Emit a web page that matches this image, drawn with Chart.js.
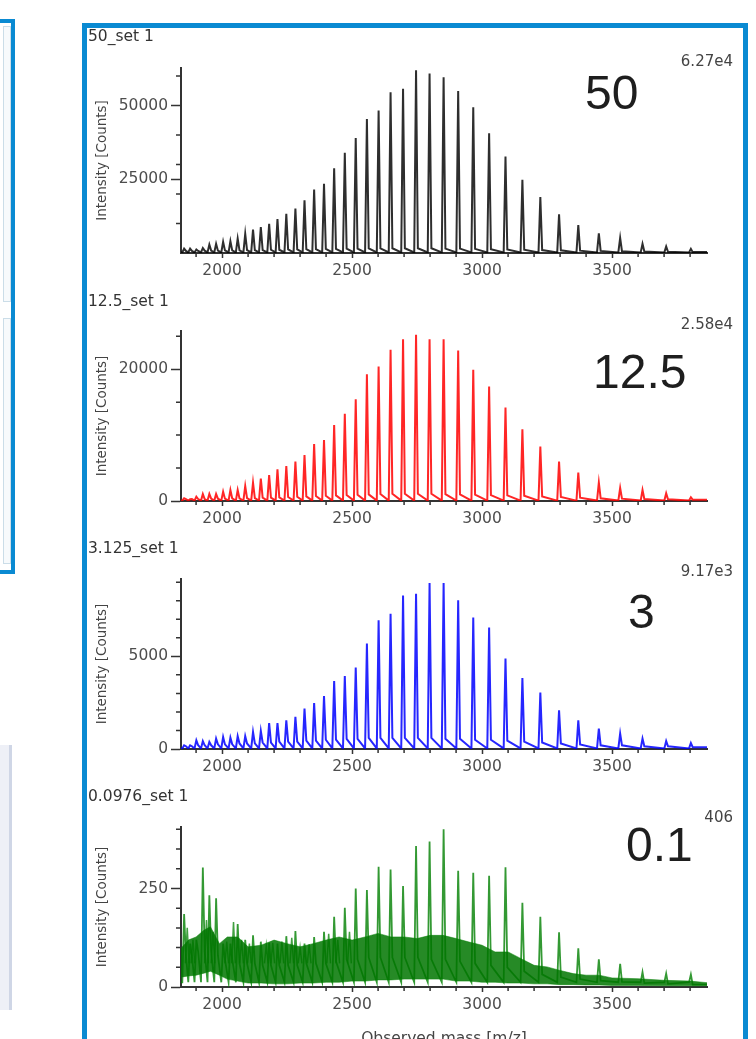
<!DOCTYPE html>
<html>
<head>
<meta charset="utf-8">
<script src="https://cdn.jsdelivr.net/npm/chart.js@4.4.1/dist/chart.umd.min.js"></script>
<style>
  body { margin: 0; width: 756px; height: 1039px; overflow: hidden; background: #fff; position: relative; font-family: 'DejaVu Sans', sans-serif; }
  .abs { position: absolute; box-sizing: border-box; }
  canvas { position: absolute; left: 88px; }
  .set { left: 88px; font-size: 15.5px; color: #333; line-height: 1; transform: translateY(-50%); white-space: nowrap; }
  .max { right: 23px; font-size: 15px; color: #444; line-height: 1; transform: translateY(-50%); }
  .big { font-family: 'Liberation Sans', Arial, sans-serif; font-size: 48px; color: #1e1e1e; line-height: 1; transform: translateY(-50%); }
</style>
</head>
<body>
<!-- bits of the neighbouring panels -->
<div class="abs" style="left:-10px;top:19px;width:25px;height:555px;border:4px solid #0a8ad2"></div>
<div class="abs" style="left:3px;top:26px;width:8px;height:276px;border:1px solid #cbdde8;background:#f7fafc"></div>
<div class="abs" style="left:3px;top:318px;width:8px;height:246px;border:1px solid #cbdde8;background:#f7fafc"></div>
<div class="abs" style="left:0;top:745px;width:12px;height:265px;background:#eef0f7;border-right:3px solid #cfd6e6"></div>

<!-- main frame -->
<div class="abs" style="left:82px;top:23px;width:666px;height:1100px;border:5px solid #0a8ad2"></div>

<canvas id="c1" width="655" height="260" style="top:30px"></canvas>
<canvas id="c2" width="655" height="248" style="top:292px"></canvas>
<canvas id="c3" width="655" height="250" style="top:540px"></canvas>
<canvas id="c4" width="655" height="249" style="top:790px"></canvas>

<div class="abs set" style="top:37px">50_set 1</div>
<div class="abs set" style="top:302px">12.5_set 1</div>
<div class="abs set" style="top:549px">3.125_set 1</div>
<div class="abs set" style="top:797px">0.0976_set 1</div>

<div class="abs max" style="top:61px">6.27e4</div>
<div class="abs max" style="top:324px">2.58e4</div>
<div class="abs max" style="top:571px">9.17e3</div>
<div class="abs max" style="top:817px">406</div>

<div class="abs big" style="left:585px;top:93px">50</div>
<div class="abs big" style="left:593px;top:372px">12.5</div>
<div class="abs big" style="left:628px;top:612px">3</div>
<div class="abs big" style="left:626px;top:845px">0.1</div>

<div class="abs" style="left:444px;top:1029px;transform:translateX(-50%);font-size:15.5px;color:#444;white-space:nowrap">Observed mass [m/z]</div>

<script>
// charge-state peaks (m/z), same envelope in every run
const peakMz = [1854, 1877, 1901, 1926, 1951, 1977, 2004, 2032, 2060, 2089, 2119, 2149, 2181, 2213,
  2247, 2282, 2317, 2354, 2392, 2431, 2472, 2514, 2557, 2602, 2648, 2696, 2746, 2798, 2852, 2908,
  2966, 3027, 3090, 3155, 3224, 3296, 3370, 3449, 3531, 3617, 3708, 3803];

// 50
const blackHeights = [1500, 1500, 1200, 1700, 2860, 3100, 3800, 4000, 4900, 6500, 7900, 8800, 9900, 11500,
  13300, 15100, 17900, 21500, 23500, 28700, 34000, 39000, 45400, 48300, 54500, 55700, 61900, 60800, 59600, 54900,
  49400, 40600, 32700, 24800, 19000, 13100, 9500, 6700, 5100, 3100, 2200, 1400];
const blackFloor = [700, 700, 700, 800, 800, 800, 900, 900, 900, 1000, 1000, 1000, 1100, 1100,
  1200, 1200, 1300, 1300, 1400, 1400, 1500, 1500, 1600, 1600, 1600, 1600, 1600, 1600, 1500, 1500,
  1400, 1300, 1200, 1100, 1000, 900, 800, 700, 600, 500, 400, 300];

// 12.5
const redHeights = [410, 260, 650, 1060, 1060, 1060, 1420, 1670, 1670, 2280, 2790, 3400, 3950, 4810,
  5320, 5980, 6990, 8660, 9270, 11540, 13220, 15440, 19240, 20400, 22940, 24560, 25220, 24560, 24560, 22830,
  19900, 17370, 14180, 10890, 8250, 5980, 4300, 2790, 1970, 1670, 1160, 560];
const redFloor = [300, 300, 300, 300, 350, 350, 350, 400, 400, 450, 450, 500, 500, 550,
  600, 650, 700, 750, 800, 850, 900, 950, 1000, 1050, 1100, 1100, 1100, 1100, 1050, 1000,
  950, 900, 850, 800, 700, 600, 500, 400, 350, 300, 250, 200];

// 3.125
const blueHeights = [200, 200, 470, 430, 380, 560, 650, 610, 690, 690, 920, 970, 1400, 1400,
  1550, 1730, 2180, 2480, 2860, 3670, 3940, 4390, 5690, 6950, 7300, 8280, 8380, 8960, 8960, 8020,
  7090, 6550, 4880, 3830, 3040, 2090, 1550, 1100, 830, 560, 430, 320];
const blueFloor = [150, 150, 200, 200, 200, 250, 250, 250, 300, 300, 300, 350, 350, 400,
  400, 400, 450, 450, 500, 500, 550, 550, 600, 600, 600, 600, 600, 600, 550, 550,
  500, 500, 450, 400, 350, 300, 250, 200, 200, 150, 150, 100];

// 0.0976
const greenHeights = [185, 110, 120, 303, 233, 225, 110, 110, 160, 120, 131, 115, 112, 110,
  129, 142, 110, 127, 140, 178, 201, 250, 246, 305, 298, 256, 358, 369, 400, 295,
  290, 282, 304, 214, 178, 139, 98, 70, 59, 38, 34, 32];
const greenFloor = [80, 80, 90, 90, 90, 80, 70, 70, 60, 60, 60, 55, 55, 55,
  55, 55, 60, 60, 60, 65, 70, 70, 75, 75, 75, 75, 75, 70, 70, 65,
  60, 55, 50, 40, 32, 25, 20, 16, 13, 10, 8, 6];
const greenExtraMz = [1866, 1888, 1940, 1965, 2018, 2044, 2075, 2105, 2170, 2195, 2230, 2268, 2300, 2335, 2410, 2445, 2490];
const greenExtraY = [150, 120, 170, 140, 115, 165, 120, 110, 105, 112, 115, 125, 100, 108, 135, 120, 140];
// noise band of the low-concentration run
const noiseMz = [1842, 1870, 1900, 1930, 1955, 1990, 2020, 2060, 2100, 2150, 2200, 2250, 2300, 2350,
  2400, 2450, 2500, 2550, 2600, 2650, 2700, 2750, 2800, 2850, 2900, 2950, 3000, 3050,
  3100, 3150, 3200, 3250, 3300, 3350, 3400, 3450, 3500, 3600, 3700, 3800, 3865];
const noiseHi = [98, 119, 127, 144, 153, 110, 127, 127, 102, 106, 119, 110, 102, 110,
  119, 127, 119, 127, 136, 127, 127, 123, 131, 131, 123, 114, 106, 89,
  89, 72, 55, 51, 42, 34, 30, 30, 23, 21, 17, 15, 11];
const noiseLo = [25, 28, 30, 35, 40, 30, 20, 15, 10, 10, 8, 8, 10, 10,
  12, 12, 15, 15, 18, 18, 20, 20, 20, 20, 15, 15, 12, 12,
  10, 10, 8, 8, 6, 6, 5, 5, 4, 4, 3, 3, 3];

const xMin = 1842, xMax = 3865;
const xMajor = [2000, 2500, 3000, 3500];
const xMinor = [1900, 2100, 2200, 2300, 2400, 2600, 2700, 2800, 2900, 3100, 3200, 3300, 3400, 3600, 3700, 3800];

Chart.defaults.font.family = "'DejaVu Sans', sans-serif";

// turn peak tables into a stick spectrum
// edges: run the baseline to both ends, otherwise leave gaps between sticks
function spectrum(mzs, heights, floor, low, edges) {
    const pts = [];
    if (edges) pts.push({x: xMin, y: low});
    mzs.forEach((mz, i) => {
        pts.push({x: mz - 7, y: low});
        pts.push({x: mz, y: heights[i]});
        pts.push({x: mz + 7, y: floor ? floor[i] : low});
        if (!edges) pts.push({x: mz + 8, y: null});
    });
    if (edges) pts.push({x: xMax, y: floor ? floor[floor.length - 1] : low});
    return pts;
}

function minorTicks(yMinor) {
    return {
        id: 'minorTicks',
        afterDraw(chart) {
            const {ctx, chartArea} = chart;
            const x = chart.scales.x, y = chart.scales.y;
            ctx.save();
            ctx.strokeStyle = '#333';
            ctx.lineWidth = 1.5;
            ctx.beginPath();
            xMinor.forEach(v => {
                const px = x.getPixelForValue(v);
                ctx.moveTo(px, chartArea.bottom);
                ctx.lineTo(px, chartArea.bottom + 4);
            });
            yMinor.forEach(v => {
                const py = y.getPixelForValue(v);
                ctx.moveTo(chartArea.left - 5, py);
                ctx.lineTo(chartArea.left, py);
            });
            ctx.stroke();
            ctx.restore();
        }
    };
}

function panel(id, cfg) {
    new Chart(document.getElementById(id), {
        type: 'line',
        data: {datasets: cfg.datasets},
        options: {
            responsive: false,
            animation: false,
            events: [],
            spanGaps: false,
            layout: {padding: {top: cfg.pt, bottom: cfg.pb, left: 0, right: 36}},
            plugins: {legend: {display: false}, tooltip: {enabled: false}},
            elements: {point: {radius: 0}, line: {tension: 0}},
            scales: {
                x: {
                    type: 'linear', min: xMin, max: xMax,
                    afterFit: s => { s.height = 30; },
                    afterBuildTicks: s => { s.ticks = xMajor.map(v => ({value: v})); },
                    ticks: {callback: v => String(v), font: {size: 15.5}, color: '#4d4d4d', padding: 4, maxRotation: 0, autoSkip: false},
                    grid: {drawOnChartArea: false, tickLength: 5, tickColor: '#333', tickWidth: 1.5},
                    border: {display: true, color: '#333', width: 2}
                },
                y: {
                    min: 0, max: cfg.yMax,
                    afterFit: s => { s.width = 93; },
                    afterBuildTicks: s => { s.ticks = cfg.yMajor.map(v => ({value: v})); },
                    ticks: {callback: v => String(v), font: {size: 15.5}, color: '#4d4d4d', padding: 3, autoSkip: false},
                    title: {display: true, text: 'Intensity [Counts]', font: {size: 13.5}, color: '#444', padding: {top: 6, bottom: 0}},
                    grid: {drawOnChartArea: false, tickLength: 10, tickColor: '#333', tickWidth: 1.5},
                    border: {display: true, color: '#333', width: 2}
                }
            }
        },
        plugins: [minorTicks(cfg.yMinor)]
    });
}

function line(pts, color, width) {
    return {data: pts, borderColor: color, borderWidth: width, fill: false};
}

panel('c1', {
    pt: 38, pb: 7, yMax: 62700,
    yMajor: [25000, 50000],
    yMinor: [10000, 20000, 30000, 40000, 60000],
    datasets: [line(spectrum(peakMz, blackHeights, blackFloor, 200, true), 'rgba(0,0,0,0.82)', 2)]
});

panel('c2', {
    pt: 39, pb: 9, yMax: 25800,
    yMajor: [0, 20000],
    yMinor: [5000, 10000, 15000, 25000],
    datasets: [line(spectrum(peakMz, redHeights, redFloor, 60, true), 'rgba(255,0,0,0.85)', 2)]
});

panel('c3', {
    pt: 39, pb: 11, yMax: 9170,
    yMajor: [0, 5000],
    yMinor: [1000, 2000, 3000, 4000, 6000, 7000, 8000, 9000],
    datasets: [line(spectrum(peakMz, blueHeights, blueFloor, 30, true), 'rgba(0,0,255,0.85)', 2)]
});

panel('c4', {
    pt: 37, pb: 22, yMax: 406,
    yMajor: [0, 250],
    yMinor: [50, 100, 150, 200, 300, 350, 400],
    datasets: [
        {data: noiseMz.map((m, i) => ({x: m, y: noiseLo[i]})), borderColor: 'rgba(0,128,0,0.5)', borderWidth: 1, fill: false},
        {data: noiseMz.map((m, i) => ({x: m, y: noiseHi[i]})), borderColor: 'rgba(0,128,0,0.5)', borderWidth: 1,
            fill: '-1', backgroundColor: 'rgba(0,118,0,0.85)'},
        line(spectrum(greenExtraMz, greenExtraY, null, 60, false), 'rgba(0,128,0,0.75)', 1.5),
        line(spectrum(peakMz, greenHeights, greenFloor, 12, true), 'rgba(0,128,0,0.8)', 1.8)
    ]
});
</script>
</body>
</html>
